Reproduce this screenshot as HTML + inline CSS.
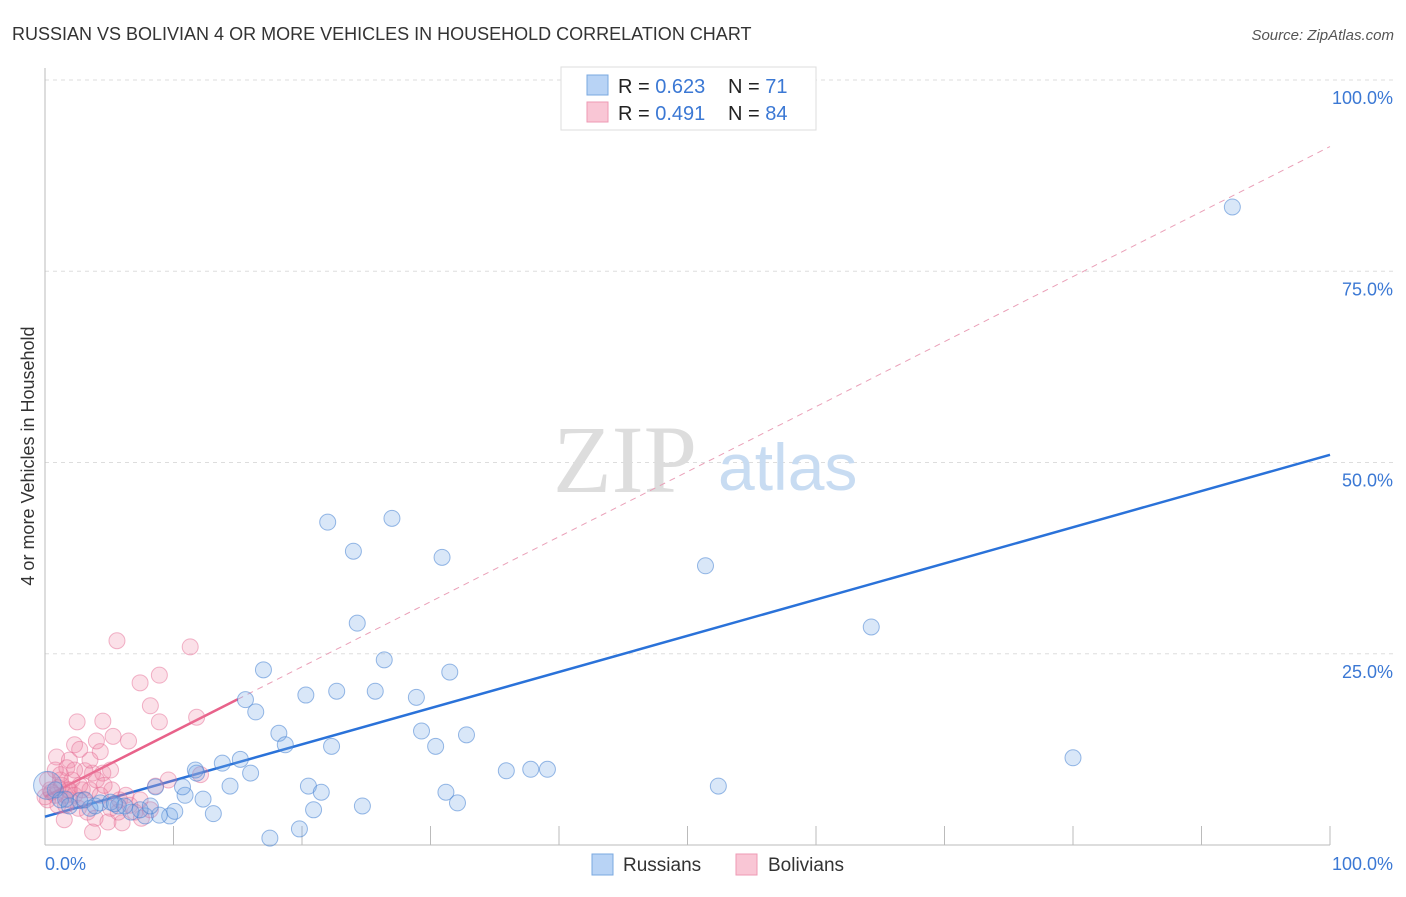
<!DOCTYPE html>
<html><head><meta charset="utf-8"><style>
body{margin:0;background:#fff;font-family:"Liberation Sans",sans-serif;}
svg text{font-family:"Liberation Sans",sans-serif;}
</style></head><body>
<svg id="chart" width="1406" height="892" xmlns="http://www.w3.org/2000/svg">
<text x="12" y="40" font-size="18" fill="#333">RUSSIAN VS BOLIVIAN 4 OR MORE VEHICLES IN HOUSEHOLD CORRELATION CHART</text>
<text x="1394" y="40" font-size="15" fill="#555" font-style="italic" text-anchor="end">Source: ZipAtlas.com</text>
<text transform="translate(34,456) rotate(-90)" font-size="18" fill="#333" text-anchor="middle">4 or more Vehicles in Household</text>
<g id="grid"></g>
<g id="axes"></g>
<text x="553" y="492" font-size="96" fill="#ddd" style="font-family:'Liberation Serif',serif">ZIP</text>
<text x="718" y="490" font-size="66" fill="#c8dcf2">atlas</text>
<g id="lines"></g>
<g id="pts"></g>
<g>
<rect x="561" y="67" width="255" height="63" fill="#fff" stroke="#ddd"/>
<rect x="587" y="75" width="21" height="20" fill="#b8d3f5" stroke="#7aa8e0"/>
<rect x="587" y="102" width="21" height="20" fill="#f9c6d5" stroke="#ee9ab4"/>
<text x="618" y="93" font-size="20" fill="#222">R = <tspan fill="#3b78d4">0.623</tspan></text>
<text x="728" y="93" font-size="20" fill="#222">N = <tspan fill="#3b78d4"> 71</tspan></text>
<text x="618" y="120" font-size="20" fill="#222">R = <tspan fill="#3b78d4"> 0.491</tspan></text>
<text x="728" y="120" font-size="20" fill="#222">N = <tspan fill="#3b78d4">84</tspan></text>
</g>
<g>
<rect x="592" y="854" width="21" height="21" fill="#b8d3f5" stroke="#7aa8e0"/>
<text x="623" y="871" font-size="19" fill="#333">Russians</text>
<rect x="736" y="854" width="21" height="21" fill="#f9c6d5" stroke="#ee9ab4"/>
<text x="768" y="871" font-size="19" fill="#333">Bolivians</text>
</g>
</svg>
<script>
const yTicks=[25,50,75,100];
const yTickLabels=["25.0%","50.0%","75.0%","100.0%"];
const xTicks=[10,20,30,40,50,60,70,80,90,100];
const russX=[92.4,22.0,27.0,24.0,30.9,51.4,24.3,64.3,17.0,26.4,31.5,22.7,25.7,20.3,28.9,15.6,16.4,18.2,18.7,29.3,32.8,30.4,22.3,80.0,35.9,37.8,39.1,15.2,13.8,11.8,16.0,8.6,14.4,52.4,20.5,21.5,31.2,10.9,12.3,10.7,24.7,32.1,20.9,13.1,9.7,8.9,7.8,6.7,5.7,4.3,2.7,1.6,3.5,5.1,6.2,7.4,17.5,19.8,0.8,0.2,1.2,1.9,3.1,3.9,8.2,10.1,11.7,5.4];
const russY=[83.4,42.2,42.7,38.4,37.6,36.5,29.0,28.5,22.9,24.2,22.6,20.1,20.1,19.6,19.3,19.0,17.4,14.6,13.1,14.9,14.4,12.9,12.9,11.4,9.7,9.9,9.9,11.2,10.7,9.4,9.4,7.6,7.7,7.7,7.7,6.9,6.9,6.5,6.0,7.6,5.1,5.5,4.6,4.1,3.8,3.9,3.8,4.3,5.1,5.5,5.8,6.0,4.8,5.6,5.1,4.6,0.9,2.1,7.2,7.8,5.9,5.1,5.9,5.1,5.1,4.4,9.8,5.4];
const bolX=[5.6,11.3,8.9,7.4,8.2,8.9,2.5,4.5,11.8,5.3,6.5,2.3,4.0,2.7,4.3,0.9,1.9,3.7,4.5,1.7,3.1,12.1,9.6,8.6,5.1,1.2,0.4,0.8,0.2,1.3,1.9,2.3,2.7,1.6,3.5,4.3,5.8,6.6,7.4,5.2,3.3,3.9,4.9,6.0,1.5,3.7,1.9,2.6,1.0,0.5,0.0,1.6,2.1,3.0,4.0,4.6,5.7,7.0,6.3,1.2,2.3,0.2,0.8,3.5,5.1,7.5,8.2,2.9,1.8,1.0];
const bolY=[26.7,25.9,22.2,21.2,18.2,16.1,16.1,16.2,16.7,14.2,13.6,13.1,13.6,12.5,12.2,11.5,11.1,9.4,9.4,10.1,9.7,9.2,8.5,7.7,9.8,8.5,7.2,6.5,5.9,7.8,7.2,6.5,7.8,5.2,7.2,6.5,5.9,5.2,5.9,7.2,4.3,3.5,3.0,2.9,3.3,1.7,5.9,4.8,5.2,6.9,6.3,6.5,8.5,5.9,8.5,7.8,4.3,4.3,6.5,9.2,9.8,8.5,9.8,11.1,4.8,3.5,4.6,7.2,7.2,7.5];
const russTrend=[3.7,51.0];
const bolTrend=[6.3,91.3];
const bolSolidEnd=15;
const NS="http://www.w3.org/2000/svg";
const X0=45,X1=1330,Y0=845,Y1=80;
function sx(v){return X0+(X1-X0)*v/100;}
function sy(v){return Y0-(Y0-Y1)*v/100;}
function mk(tag,attrs,parent){const e=document.createElementNS(NS,tag);for(const k in attrs)e.setAttribute(k,attrs[k]);parent.appendChild(e);return e;}
const grid=document.getElementById('grid'),axes=document.getElementById('axes'),lines=document.getElementById('lines'),pts=document.getElementById('pts');
yTicks.forEach((t,i)=>{
 const l=mk('line',{x1:X0,x2:1395,y1:sy(t),y2:sy(t),stroke:'#ddd','stroke-dasharray':'4,4'},grid);
 
 
 const tx=mk('text',{x:1393,y:sy(t)+24,'font-size':18,fill:'#3b78d4','text-anchor':'end'},axes);
 tx.textContent=yTickLabels[i];
 
 
});
const ya=mk('line',{x1:X0,x2:X0,y1:68,y2:Y0,stroke:'#bbb'},axes);


const xa=mk('line',{x1:X0,x2:X1,y1:Y0,y2:Y0,stroke:'#bbb'},axes);


xTicks.forEach(t=>{
 const l=mk('line',{x1:sx(t),x2:sx(t),y1:826,y2:Y0,stroke:'#bbb'},axes);
 
 
});
const xl0=mk('text',{x:45,y:870,'font-size':18,fill:'#3b78d4'},axes);xl0.textContent='0.0%';


const xl1=mk('text',{x:1393,y:870,'font-size':18,fill:'#3b78d4','text-anchor':'end'},axes);xl1.textContent='100.0%';


function byAt(x){return bolTrend[0]+(bolTrend[1]-bolTrend[0])*x/100;}
const bd=mk('line',{x1:sx(bolSolidEnd),y1:sy(byAt(bolSolidEnd)),x2:sx(100),y2:sy(byAt(100)),stroke:'#eaa0b8','stroke-width':1,'stroke-dasharray':'6,5'},lines);


bolX.forEach((x,i)=>{
 const c=mk('circle',{cx:sx(x),cy:sy(bolY[i]),r:8,fill:'rgba(240,130,165,0.25)',stroke:'rgba(230,110,150,0.5)','stroke-width':1},pts);
 
 
});
russX.forEach((x,i)=>{
 const c=mk('circle',{cx:sx(x),cy:sy(russY[i]),r:i==59?14:8,fill:'rgba(120,170,230,0.28)',stroke:'rgba(70,130,210,0.55)','stroke-width':1},pts);
 
 
});
const rl=mk('line',{x1:sx(0),y1:sy(russTrend[0]),x2:sx(100),y2:sy(russTrend[1]),stroke:'#2a72d9','stroke-width':2.5},lines);


const bl=mk('line',{x1:sx(0),y1:sy(bolTrend[0]),x2:sx(bolSolidEnd),y2:sy(byAt(bolSolidEnd)),stroke:'#e8628a','stroke-width':2.5},lines);


</script>
</body></html>
